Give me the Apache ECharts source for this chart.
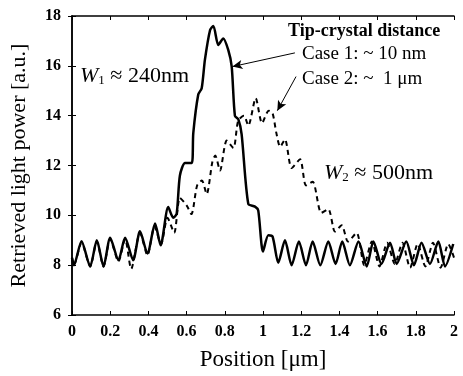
<!DOCTYPE html>
<html>
<head>
<meta charset="utf-8">
<script src="https://cdn.jsdelivr.net/npm/echarts@6/dist/echarts.min.js"></script>
<style>
  html, body { margin: 0; padding: 0; background: #fff; }
  #chart { width: 463px; height: 376px; }
</style>
</head>
<body>
<div id="chart"></div>
<script>
// Case 1: tip-crystal distance ~10 nm (solid)
var case1X = [0, 0.01, 0.05, 0.095, 0.13, 0.165, 0.2, 0.243, 0.278, 0.32,
  0.356, 0.395, 0.435, 0.464, 0.504, 0.53, 0.548, 0.565, 0.592, 0.627,
  0.635, 0.661, 0.679, 0.696, 0.723, 0.74, 0.766, 0.792, 0.818, 0.836,
  0.853, 0.871, 0.888, 0.923, 0.958, 0.975, 1.0, 1.028, 1.05, 1.08,
  1.115, 1.15, 1.188, 1.225, 1.26, 1.3, 1.342, 1.38, 1.415, 1.455,
  1.5, 1.543, 1.578, 1.62, 1.665, 1.7, 1.75, 1.79, 1.83, 1.874,
  1.918, 1.953, 1.996];
var case1Y = [8.3, 8.0, 8.96, 7.95, 9.0, 7.95, 9.1, 8.2, 9.1, 8.2,
  9.36, 8.47, 9.67, 8.8, 10.33, 9.9, 10.07, 11.6, 12.1, 12.1,
  13.3, 14.85, 15.1, 16.25, 17.44, 17.6, 16.84, 17.1, 16.64, 15.98,
  13.99, 13.85, 13.26, 10.46, 10.35, 10.2, 8.55, 9.2, 9.15, 8.1,
  9.0, 8.0, 8.95, 8.0, 8.95, 8.0, 8.95, 8.05, 8.95, 8.0,
  8.95, 7.95, 8.95, 8.05, 8.9, 8.05, 8.95, 8.0, 8.9, 8.05,
  8.95, 7.95, 8.85];

// Case 2: tip-crystal distance ~1 um (dashed)
var case2X = [0, 0.01, 0.05, 0.095, 0.13, 0.165, 0.2, 0.243, 0.278, 0.31,
  0.356, 0.395, 0.432, 0.466, 0.5, 0.535, 0.565, 0.6, 0.625, 0.655,
  0.68, 0.705, 0.735, 0.75, 0.775, 0.81, 0.845, 0.87, 0.9, 0.923,
  0.962, 0.995, 1.03, 1.05, 1.07, 1.09, 1.115, 1.15, 1.194, 1.225,
  1.26, 1.305, 1.342, 1.377, 1.412, 1.445, 1.49, 1.53, 1.57, 1.61,
  1.65, 1.69, 1.73, 1.77, 1.81, 1.85, 1.89, 1.93, 1.97, 2.0];
var case2Y = [8.3, 8.0, 8.9, 7.95, 8.95, 7.95, 9.05, 8.15, 9.05, 7.85,
  9.3, 8.4, 9.55, 8.85, 9.9, 9.3, 10.7, 10.4, 10.05, 11.2,
  11.4, 10.85, 12.15, 12.4, 11.8, 13.0, 12.7, 13.8, 14.0, 13.6,
  14.7, 13.7, 14.2, 14.1, 13.3, 12.75, 13.05, 11.9, 12.25, 11.2,
  11.35, 10.1, 10.25, 9.35, 9.6, 8.95, 9.3, 8.0, 8.95, 7.95,
  8.9, 8.05, 8.9, 7.9, 8.85, 7.95, 8.9, 7.9, 8.85, 8.3];

var xTicks = [0, 2, 0.2];   // min, max, interval
var yTicks = [6, 18, 2];

function pairs(xs, ys) {
  return xs.map(function (x, i) { return [x, ys[i]]; });
}

var serif = '"Liberation Serif", "Times New Roman", serif';
var chart = echarts.init(document.getElementById('chart'));

var tickStyle = { inside: true, length: 4, lineStyle: { color: '#000', width: 1 } };

function wLabel(sub) {
  return {
    i: { fontFamily: serif, fontSize: 22, fontStyle: 'italic', fill: '#000', verticalAlign: 'bottom' },
    s: { fontFamily: serif, fontSize: 13, fill: '#000', verticalAlign: 'bottom', padding: [10, 0, 0, 0] },
    n: { fontFamily: serif, fontSize: 22, fill: '#000', verticalAlign: 'bottom' }
  };
}

var option = {
  animation: false,
  backgroundColor: '#fff',
  grid: { left: 72, right: 9, top: 16, bottom: 59 },
  xAxis: [{
    type: 'value', min: xTicks[0], max: xTicks[1], interval: xTicks[2],
    name: 'Position [\u03bcm]', nameLocation: 'middle', nameGap: 33,
    nameTextStyle: { fontFamily: serif, fontSize: 23, color: '#000' },
    axisLine: { lineStyle: { color: '#000', width: 1.5 } },
    axisTick: tickStyle,
    splitLine: { show: false },
    axisLabel: { fontFamily: serif, fontSize: 16, fontWeight: 'bold', color: '#000', margin: 9 }
  }, {
    type: 'value', position: 'top', min: xTicks[0], max: xTicks[1], interval: xTicks[2],
    axisLine: { lineStyle: { color: '#000', width: 1.5 } },
    axisTick: tickStyle, axisLabel: { show: false }, splitLine: { show: false }
  }],
  yAxis: [{
    type: 'value', min: yTicks[0], max: yTicks[1], interval: yTicks[2],
    name: 'Retrieved light power [a.u.]', nameLocation: 'middle', nameGap: 42,
    nameTextStyle: { fontFamily: serif, fontSize: 22, color: '#000' },
    axisLine: { show: true, lineStyle: { color: '#000', width: 1.5 } },
    axisTick: tickStyle,
    splitLine: { show: false },
    axisLabel: { fontFamily: serif, fontSize: 16, fontWeight: 'bold', color: '#000', margin: 11 }
  }, {
    type: 'value', position: 'right', min: yTicks[0], max: yTicks[1], interval: yTicks[2],
    axisLine: { show: true, lineStyle: { color: '#000', width: 1.5 } },
    axisTick: tickStyle, axisLabel: { show: false }, splitLine: { show: false }
  }],
  series: [{
    name: 'Case 1', type: 'line', data: pairs(case1X, case1Y),
    showSymbol: false, smooth: 0.25,
    lineStyle: { color: '#000', width: 2.5 },
    markLine: {
      silent: true, symbol: ['none', 'arrow'], symbolSize: [7, 10],
      label: { show: false },
      lineStyle: { color: '#000', type: 'solid', width: 1 },
      data: [
        [{ coord: [1.167, 16.52] }, { coord: [0.84, 15.97] }],
        [{ coord: [1.173, 15.57] }, { coord: [1.075, 14.2] }]
      ]
    }
  }, {
    name: 'Case 2', type: 'line', data: pairs(case2X, case2Y),
    showSymbol: false, smooth: 0.25,
    lineStyle: { color: '#000', width: 2, type: [5, 4] }
  }],
  graphic: [{
    type: 'text', left: 80, top: 65,
    style: { text: '{i|W}{s|1}{n| \u2248 240nm}', rich: wLabel() }
  }, {
    type: 'text', left: 324, top: 162,
    style: { text: '{i|W}{s|2}{n| \u2248 500nm}', rich: wLabel() }
  }, {
    type: 'text', left: 288, top: 22,
    style: { text: 'Tip-crystal distance', font: 'bold 18px ' + serif, fill: '#000' }
  }, {
    type: 'text', left: 302, top: 45,
    style: { text: 'Case 1: ~ 10 nm', font: '19px ' + serif, fill: '#000' }
  }, {
    type: 'text', left: 302, top: 70,
    style: { text: 'Case 2: ~  1 \u03bcm', font: '19px ' + serif, fill: '#000' }
  }]
};

chart.setOption(option);
</script>
</body>
</html>
